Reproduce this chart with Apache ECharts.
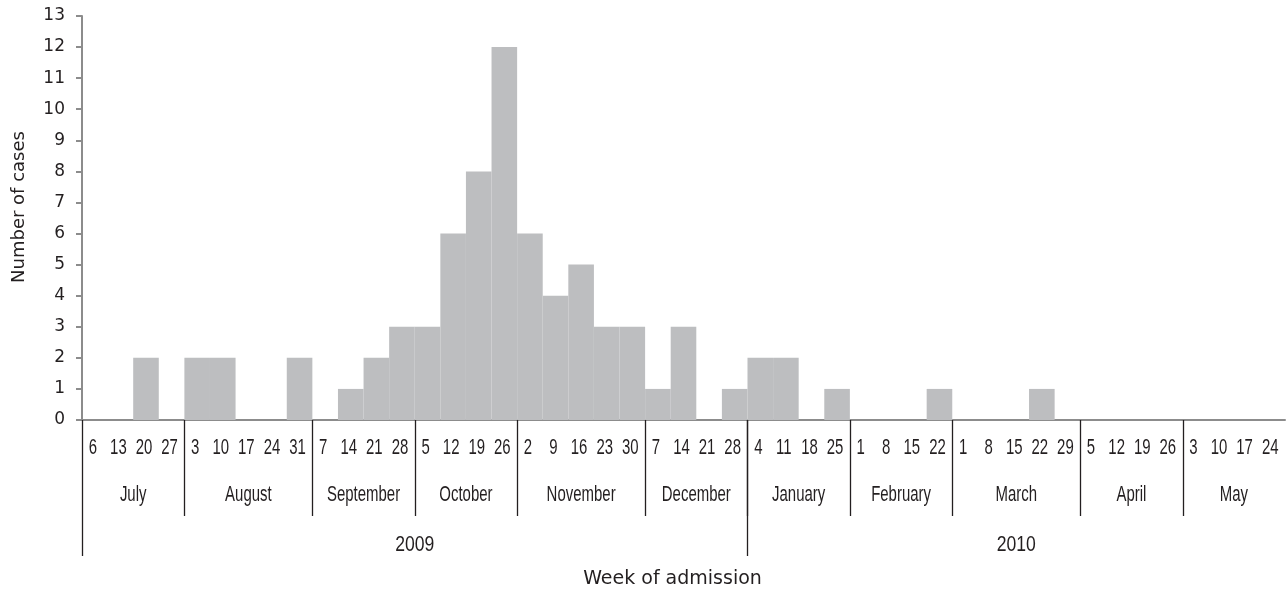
<!DOCTYPE html>
<html>
<head>
<meta charset="utf-8">
<script src="https://cdn.jsdelivr.net/npm/echarts@6/dist/echarts.min.js"></script>
<style>
html,body{margin:0;padding:0;background:#fff;}
#chart{width:1286px;height:594px;}
</style>
</head>
<body>
<div id="chart"></div>
<script>
// Week-start day labels (x categories)
const weekLabels = ['6','13','20','27','3','10','17','24','31','7','14','21','28','5','12','19','26','2','9','16','23','30','7','14','21','28','4','11','18','25','1','8','15','22','1','8','15','22','29','5','12','19','26','3','10','17','24'];
// Number of cases per week
const cases = [0,0,2,0, 2,2,0,0,2, 0,1,2,3, 3,6,8,12, 6,4,5,3,3, 1,3,0,1, 2,2,0,1, 0,0,0,1, 0,0,0,1,0, 0,0,0,0, 0,0,0,0];
// Months and number of weeks in each
const monthNames = ['July','August','September','October','November','December','January','February','March','April','May'];
const monthWeeks = [4,5,4,4,5,4,4,4,5,4,4];
// Years and number of months in each
const yearNames = ['2009','2010'];
const yearMonths = [6,5];
const yTicks = [0,1,2,3,4,5,6,7,8,9,10,11,12,13];

// build label spans [startIdx, endIdx, level, label, drawLeftLine]
const spans = [];
weekLabels.forEach((w, i) => spans.push([i, i, 0, w, 0]));
let idx = 0;
const monthStart = [];
monthNames.forEach((m, i) => {
  monthStart.push(idx);
  spans.push([idx, idx + monthWeeks[i] - 1, 1, m, i > 0 ? 1 : 0]);
  idx += monthWeeks[i];
});
let mi = 0;
yearNames.forEach((y, i) => {
  const s = monthStart[mi];
  const lastMonth = mi + yearMonths[i] - 1;
  const e = monthStart[lastMonth] + monthWeeks[lastMonth] - 1;
  spans.push([s, e, 2, y, 1]);
  mi += yearMonths[i];
});

const chart = echarts.init(document.getElementById('chart'), null, {renderer: 'canvas'});
const labelFont = "'Liberation Sans',Arial,sans-serif";
const textColor = '#231f20';
const axisGray = '#8c8c8c';
const roundFont = "'DejaVu Sans',sans-serif";

chart.setOption({
  animation: false,
  grid: {left: 82, right: 1, top: 16, bottom: 173, containLabel: false},
  xAxis: {
    type: 'category',
    data: weekLabels,
    boundaryGap: true,
    axisLine: {show: true, lineStyle: {color: axisGray, width: 2}},
    axisTick: {show: false},
    axisLabel: {show: false},
    name: 'Week of admission',
    nameLocation: 'middle',
    nameGap: 150,
    nameTextStyle: {fontSize: 19, color: textColor, fontFamily: roundFont, padding: [0, 22, 0, 0]}
  },
  yAxis: {
    type: 'value',
    min: 0, max: 13, interval: 1,
    axisLine: {show: true, lineStyle: {color: axisGray, width: 2}},
    axisTick: {show: true, length: 6, lineStyle: {color: axisGray, width: 2}},
    splitLine: {show: false},
    axisLabel: {margin: 17, fontSize: 17, color: textColor, fontFamily: roundFont,
      formatter: v => yTicks.includes(v) ? String(v) : ''},
    name: 'Number of cases',
    nameLocation: 'middle',
    nameGap: 54,
    nameTextStyle: {fontSize: 18, color: textColor, fontFamily: roundFont, padding: [0, 0, 0, 22]}
  },
  series: [
    {
      type: 'bar',
      data: cases,
      barCategoryGap: '0%',
      barGap: '0%',
      itemStyle: {color: '#bdbec0'},
      z: 2
    },
    {
      type: 'custom',
      clip: false,
      silent: true,
      encode: {x: [0, 1]},
      data: spans,
      z: 5,
      renderItem: function (params, api) {
        const s = api.value(0), e = api.value(1), level = api.value(2);
        const item = spans[params.dataIndex];
        const bw = api.size([1, 0])[0];
        const p0 = api.coord([s, 0]);
        const p1 = api.coord([e, 0]);
        const x0 = p0[0] - bw / 2;
        const x1 = p1[0] + bw / 2;
        const y0 = p0[1];
        const children = [];
        if (item[4]) {
          const lineLen = level === 1 ? 96 : 136;
          const lx = Math.round(x0) + 0.5;
          children.push({
            type: 'line',
            shape: {x1: lx, y1: y0, x2: lx, y2: y0 + lineLen},
            style: {stroke: '#231f20', lineWidth: 1.3}
          });
        }
        const textY = level === 0 ? y0 + 28 : (level === 1 ? y0 + 75 : y0 + 125);
        const cx = level === 0 ? (x0 + x1) / 2 - 2 : (x0 + x1) / 2;
        children.push({
          type: 'text',
          x: cx,
          y: textY,
          scaleX: level === 2 ? 0.8 : 0.68,
          style: {
            text: item[3],
            textAlign: 'center',
            textVerticalAlign: 'middle',
            fill: textColor,
            font: "22px " + labelFont
          }
        });
        return {type: 'group', children: children};
      }
    }
  ]
});
</script>
</body>
</html>
